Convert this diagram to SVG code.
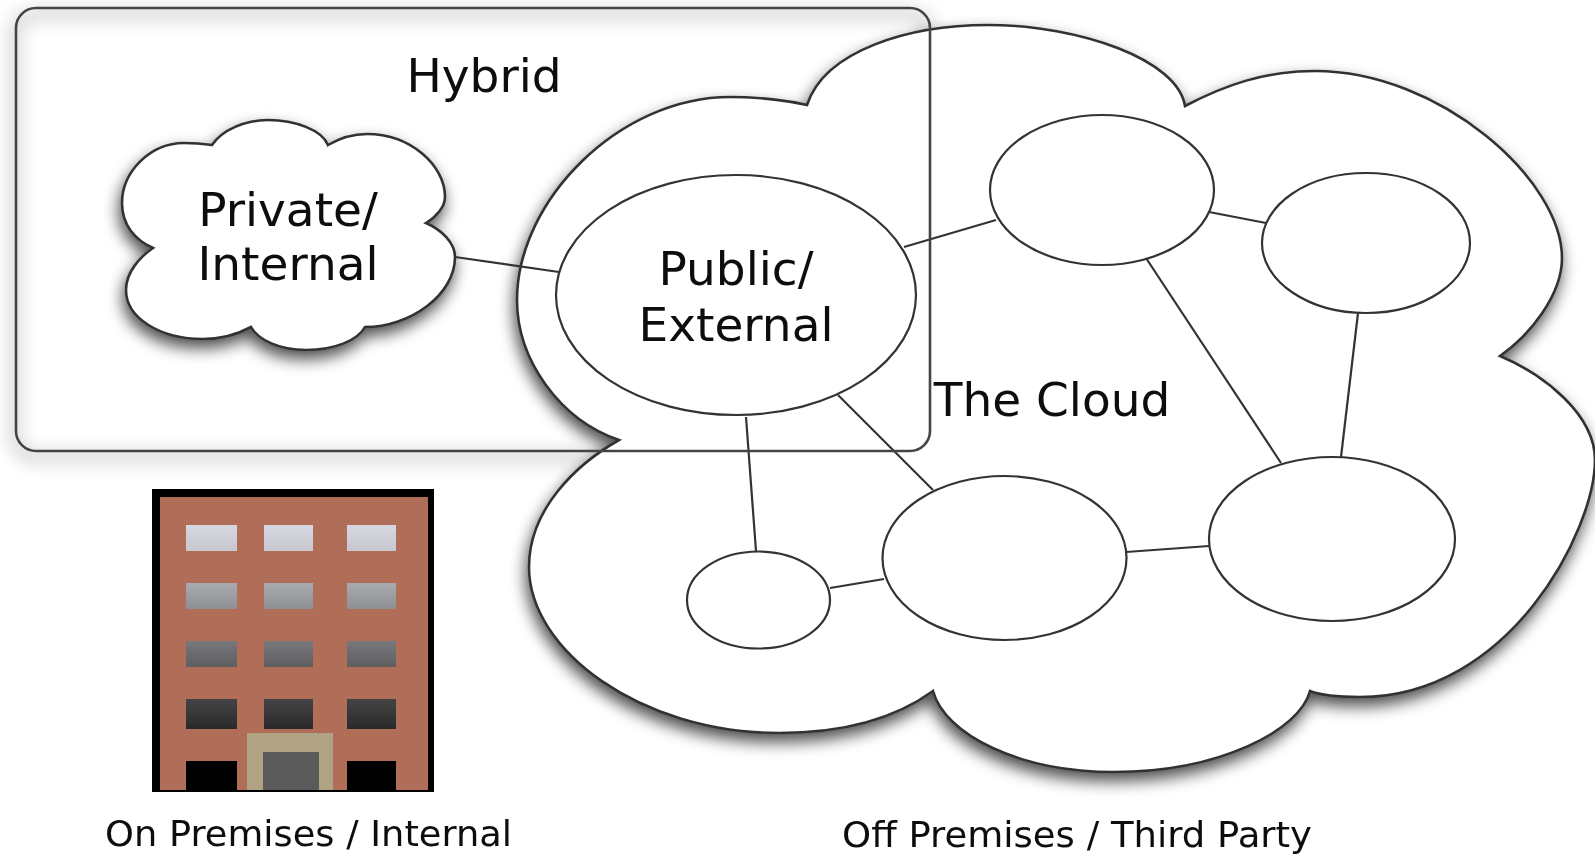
<svg xmlns="http://www.w3.org/2000/svg" width="1595" height="858" viewBox="0 0 1595 858">
<style>
.cloud{fill:#fff;stroke:#333;stroke-width:2.6;filter:url(#shadow)}
.node{fill:#fff;stroke:#333;stroke-width:2.2}
.conn{stroke:#333;stroke-width:2.2;fill:none}
.frame{fill:none;stroke:#444;stroke-width:2.6}
text{font-family:"DejaVu Sans","Liberation Sans",sans-serif;fill:#111;filter:url(#soft)}
.big{font-size:47px}
.small{font-size:35px}
</style>
<defs>
<filter id="shadow" x="-10%" y="-10%" width="120%" height="125%">
<feGaussianBlur in="SourceAlpha" stdDeviation="8"/>
<feOffset dx="-2" dy="8" result="b"/>
<feComponentTransfer in="b" result="c"><feFuncA type="linear" slope="0.7"/></feComponentTransfer>
<feMerge><feMergeNode in="c"/><feMergeNode in="SourceGraphic"/></feMerge>
</filter>
<filter id="frameShadow" x="-5%" y="-10%" width="110%" height="120%">
<feGaussianBlur stdDeviation="9"/>
<feOffset dx="-1" dy="6"/>
</filter>
<filter id="soft" x="-5%" y="-20%" width="110%" height="140%"><feGaussianBlur stdDeviation="0.5"/></filter>
<linearGradient id="w1" x1="0" y1="0" x2="0" y2="1"><stop offset="0" stop-color="#d6d7e0"/><stop offset="1" stop-color="#c6c7cf"/></linearGradient>
<linearGradient id="w2" x1="0" y1="0" x2="0" y2="1"><stop offset="0" stop-color="#aaabb0"/><stop offset="1" stop-color="#8e8f93"/></linearGradient>
<linearGradient id="w3" x1="0" y1="0" x2="0" y2="1"><stop offset="0" stop-color="#77787c"/><stop offset="1" stop-color="#5e5e60"/></linearGradient>
<linearGradient id="w4" x1="0" y1="0" x2="0" y2="1"><stop offset="0" stop-color="#444446"/><stop offset="1" stop-color="#2a2a2b"/></linearGradient>
</defs>

<g id="hybrid-back">
<rect x="16" y="8" width="914" height="443" rx="20" fill="none" stroke="#000" stroke-opacity="0.4" stroke-width="5" filter="url(#frameShadow)"/>
</g>

<g id="private-cloud">
<path class="cloud" d="M212,145 C222,130 245,120 268,120 C295,120 322,130 328,145 C340,138 352,134 367,134 C410,134 445,165 445,197 C445,207 436,217 426,223 C442,230 455,243 455,257 C455,295 410,327 365,327 C358,340 335,350 306,350 C280,350 258,340 251,327 C240,333 222,339 203,339 C160,339 126,318 126,290 C126,272 140,257 153,248 C135,240 122,225 122,203 C122,172 150,143 184,143 C195,143 205,144 212,145 Z"/>
<text class="big" x="288" y="226" text-anchor="middle">Private/</text>
<text class="big" x="288" y="280" text-anchor="middle">Internal</text>
</g>

<g id="cloud">
<path class="cloud" d="M807,105 C825,50 910,25 988,25 C1080,25 1178,60 1185,106 C1225,85 1265,71 1315,71 C1440,71 1562,180 1562,258 C1562,295 1530,335 1500,356 C1545,375 1595,415 1595,460 C1595,530 1510,697 1360,697 C1340,697 1320,695 1310,691 C1300,730 1220,772 1114,772 C1020,772 945,735 933,691 C900,715 850,733 779,733 C640,733 529,650 529,567 C529,510 575,465 619,440 C560,420 517,360 517,300 C517,200 620,97 730,97 C760,97 785,100 807,105 Z"/>
<text class="big" x="1052" y="416" text-anchor="middle">The Cloud</text>
</g>

<g id="connectors">
<line class="conn" x1="455" y1="257" x2="559" y2="272"/>
<line class="conn" x1="904" y1="247" x2="996" y2="220"/>
<line class="conn" x1="1209" y1="212" x2="1266" y2="223"/>
<line class="conn" x1="1146" y1="258" x2="1281" y2="463"/>
<line class="conn" x1="1358" y1="313" x2="1341" y2="457"/>
<line class="conn" x1="746" y1="417" x2="756" y2="551"/>
<line class="conn" x1="838" y1="395" x2="933" y2="490"/>
<line class="conn" x1="830" y1="588" x2="884" y2="579"/>
<line class="conn" x1="1126" y1="552" x2="1209" y2="546"/>
</g>

<g id="public"><ellipse class="node" cx="736" cy="295" rx="180" ry="120"/>
<text class="big" x="736" y="285" text-anchor="middle">Public/</text>
<text class="big" x="736" y="341" text-anchor="middle">External</text></g>
<g id="node-top"><ellipse class="node" cx="1102" cy="190" rx="112" ry="75"/></g>
<g id="node-right"><ellipse class="node" cx="1366" cy="243" rx="104" ry="70"/></g>
<g id="node-small"><ellipse class="node" cx="758.500" cy="600" rx="71.500" ry="48.500"/></g>
<g id="node-mid"><ellipse class="node" cx="1004.500" cy="558" rx="122" ry="82"/></g>
<g id="node-bigright"><ellipse class="node" cx="1332" cy="539" rx="123" ry="82"/></g>

<g id="hybrid">
<rect class="frame" x="16" y="8" width="914" height="443" rx="20"/>
<text class="big" x="484" y="92" text-anchor="middle">Hybrid</text>
</g>

<g id="building" filter="url(#soft)">
<rect x="152" y="489" width="282" height="303" fill="#000"/>
<rect x="160" y="497" width="268" height="293" fill="#b06e59"/>
<rect x="186" y="525" width="51" height="26" fill="url(#w1)"/><rect x="264" y="525" width="49" height="26" fill="url(#w1)"/><rect x="347" y="525" width="49" height="26" fill="url(#w1)"/>
<rect x="186" y="583" width="51" height="26" fill="url(#w2)"/><rect x="264" y="583" width="49" height="26" fill="url(#w2)"/><rect x="347" y="583" width="49" height="26" fill="url(#w2)"/>
<rect x="186" y="641" width="51" height="26" fill="url(#w3)"/><rect x="264" y="641" width="49" height="26" fill="url(#w3)"/><rect x="347" y="641" width="49" height="26" fill="url(#w3)"/>
<rect x="186" y="699" width="51" height="30" fill="url(#w4)"/><rect x="264" y="699" width="49" height="30" fill="url(#w4)"/><rect x="347" y="699" width="49" height="30" fill="url(#w4)"/>
<rect x="186" y="761" width="51" height="29" fill="#000"/><rect x="347" y="761" width="49" height="29" fill="#000"/>
<rect x="247" y="733" width="86" height="57" fill="#b0a383"/>
<rect x="263" y="752" width="56" height="38" fill="#5a5a5a"/>
</g>

<text class="small" x="105" y="846" textLength="407" lengthAdjust="spacingAndGlyphs">On Premises / Internal</text>
<text class="small" x="842" y="847" textLength="470" lengthAdjust="spacingAndGlyphs">Off Premises / Third Party</text>
</svg>
